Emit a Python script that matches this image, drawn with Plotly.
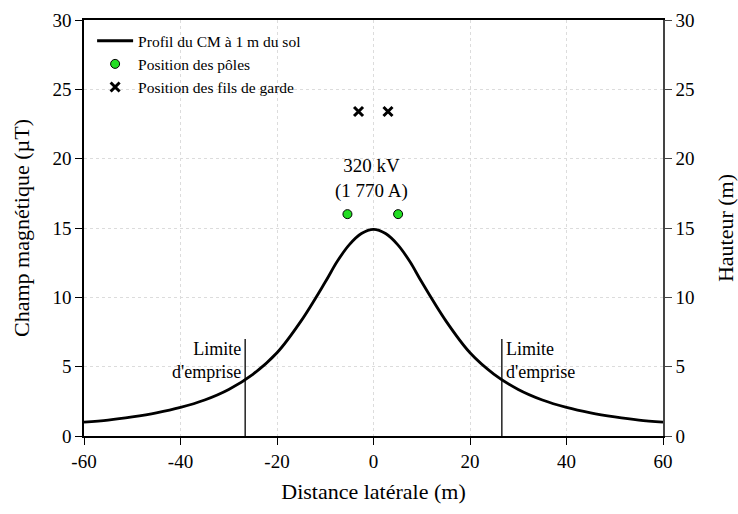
import plotly.graph_objects as go

# Magnetic field profile at 1 m above ground (µT) vs lateral distance (m)
distance = [-60, -55, -50, -45, -40, -35, -30, -25, -20, -15, -10, -7.5, -5, -2.5, 0,
            2.5, 5, 7.5, 10, 15, 20, 25, 30, 35, 40, 45, 50, 55, 60]
champ = [1.0, 1.15, 1.38, 1.67, 2.06, 2.6, 3.36, 4.45, 6.0, 8.3, 11.1, 12.6, 13.8, 14.6, 14.9,
         14.6, 13.8, 12.6, 11.1, 8.3, 6.0, 4.45, 3.36, 2.6, 2.06, 1.67, 1.38, 1.15, 1.0]

# Conductor positions (m) and heights (m)
poles_x = [-5.4, 5.1]
poles_h = [16.0, 16.0]
garde_x = [-3.1, 3.0]
garde_h = [23.4, 23.4]

# Right-of-way limits
emprise_x = [-26.6, 26.6]
emprise_top = 7.0

# Tick labels (plain hyphen for negatives)
x_ticks = [-60, -40, -20, 0, 20, 40, 60]
x_ticklabels = ["-60", "-40", "-20", "0", "20", "40", "60"]

FONT = "Liberation Serif"

fig = go.Figure()

fig.add_trace(go.Scatter(
    x=distance, y=champ, mode="lines", line=dict(color="black", width=2.8, shape="spline"),
    name="Profil du CM à 1 m du sol"))
fig.add_trace(go.Scatter(
    x=poles_x, y=poles_h, mode="markers", yaxis="y2",
    marker=dict(color="#22dd22", size=9, line=dict(color="black", width=1)),
    name="Position des pôles"))
fig.add_trace(go.Scatter(
    x=garde_x, y=garde_h, mode="markers", yaxis="y2",
    marker=dict(color="black", size=9, symbol="x-thin", line=dict(color="black", width=3)),
    name="Position des fils de garde"))

for xe in emprise_x:
    fig.add_trace(go.Scatter(x=[xe, xe], y=[0, emprise_top], mode="lines",
                             line=dict(color="black", width=1.3), showlegend=False,
                             hoverinfo="skip"))

fig.add_annotation(x=emprise_x[0], y=5.45, xref="x", yref="y", text="Limite<br>d'emprise",
                   showarrow=False, xanchor="right", align="right", xshift=-2,
                   font=dict(family=FONT, size=18, color="black"))
fig.add_annotation(x=emprise_x[1], y=5.45, xref="x", yref="y", text="Limite<br>d'emprise",
                   showarrow=False, xanchor="left", align="left", xshift=2,
                   font=dict(family=FONT, size=18, color="black"))
fig.add_annotation(x=-0.5, y=18.6, xref="x", yref="y", text="320 kV<br>(1 770 A)",
                   showarrow=False, align="center",
                   font=dict(family=FONT, size=19, color="black"))

grid = dict(showgrid=True, gridcolor="#dcdcdc", gridwidth=1, griddash="dot")
tickfont = dict(family=FONT, size=19, color="black")
titlefont = dict(family=FONT, size=22, color="black")

fig.update_layout(
    width=738, height=514,
    margin=dict(l=84, r=75, t=20, b=78),
    paper_bgcolor="white", plot_bgcolor="white",
    font=dict(family=FONT, size=19, color="black"),
    showlegend=True,
    legend=dict(x=0.014, y=0.99, xanchor="left", yanchor="top",
                bgcolor="rgba(0,0,0,0)", font=dict(family=FONT, size=15.5, color="black"),
                tracegroupgap=0, itemwidth=36),
    xaxis=dict(range=[-60, 60], tickvals=x_ticks, ticktext=x_ticklabels, tickfont=tickfont,
               showline=True, linecolor="black", automargin=False,
               linewidth=1.5, mirror=True, ticks="outside", ticklen=7, tickcolor="black",
               zeroline=False,
               title=dict(text="Distance latérale (m)", font=titlefont, standoff=13),
               **grid),
    yaxis=dict(range=[0, 30], dtick=5, tickfont=tickfont, showline=True, linecolor="black",
               linewidth=1.5, ticks="outside", ticklen=7, tickcolor="black", zeroline=False,
               automargin=False,
               title=dict(text="Champ magnétique (µT)", font=titlefont, standoff=17),
               **grid),
    yaxis2=dict(range=[0, 30], dtick=5, tickfont=tickfont, overlaying="y", side="right",
                showline=True, linecolor="#444444", linewidth=1.5, ticks="outside",
                ticklen=7, tickcolor="#444444", zeroline=False, showgrid=False,
                automargin=False,
                title=dict(text="Hauteur (m)", font=titlefont, standoff=24)),
)

fig.write_html("out.html")
